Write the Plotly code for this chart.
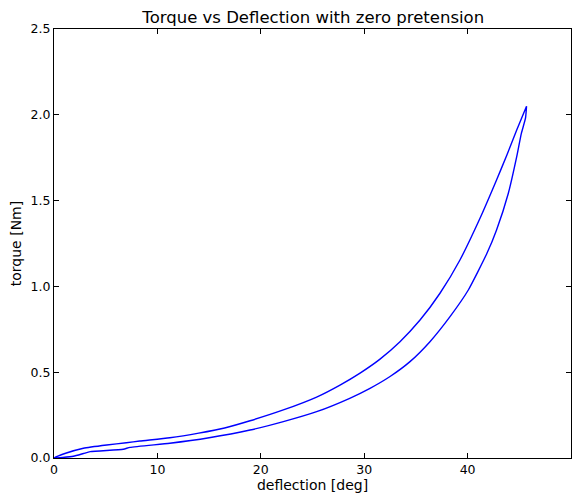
import plotly.graph_objects as go

# Loading branch (upper curve), deflection [deg] and torque [Nm]
defl_up = [0.0, 1.2, 2.84, 5.1, 7.0, 8.3, 11.2, 14.0, 16.5, 18.96, 22.18, 25.4, 27.66,
           29.6, 31.5, 33.46, 35.4, 37.33, 39.26, 41.2, 42.8, 43.8, 44.75, 45.7]
torque_up = [0.0, 0.029, 0.057, 0.076, 0.089, 0.099, 0.118, 0.145, 0.175, 0.217, 0.28, 0.355, 0.425,
             0.495, 0.575, 0.678, 0.804, 0.96, 1.154, 1.397, 1.62, 1.766, 1.911, 2.05]

# Unloading branch (lower curve)
defl_down = [45.7, 45.6, 45.2, 44.75, 43.94, 42.8, 41.85, 40.07, 38.3, 36.36, 34.4,
             32.5, 30.56, 28.6, 25.4, 22.18, 18.96, 15.0, 11.2, 7.35, 6.7, 3.5, 2.84, 1.87, 0.0]
torque_down = [2.05, 1.98, 1.892, 1.756, 1.543, 1.329, 1.19, 0.979, 0.824, 0.678, 0.56,
               0.475, 0.406, 0.348, 0.27, 0.212, 0.163, 0.118, 0.086, 0.062, 0.051, 0.037, 0.026, 0.01, 0.0]

x_ticks = [0, 10, 20, 30, 40, 50]
y_ticks = [0.0, 0.5, 1.0, 1.5, 2.0, 2.5]

fig = go.Figure()
fig.add_trace(go.Scatter(
    x=defl_up + defl_down,
    y=torque_up + torque_down,
    mode="lines",
    line=dict(color="#0000ff", width=1.4, shape="spline", smoothing=0.5),
    showlegend=False,
))

axis_common = dict(
    showline=True, linecolor="black", linewidth=1, mirror="ticks",
    ticks="inside", ticklen=5, tickcolor="black", tickwidth=1,
    showgrid=False, zeroline=False,
    tickfont=dict(family="DejaVu Sans", size=12.5, color="black"),
)

fig.update_layout(
    width=578, height=498,
    margin=dict(l=54, r=7, t=29, b=40),
    paper_bgcolor="white", plot_bgcolor="white",
    title=dict(text="Torque vs Deflection with zero pretension",
               x=0.542, xanchor="center", y=0.966, yanchor="middle",
               font=dict(family="DejaVu Sans", size=16.5, color="black")),
    xaxis=dict(range=[0, 50], tickvals=x_ticks, ticktext=[str(v) for v in x_ticks],
               title=dict(text="deflection [deg]", standoff=3,
                          font=dict(family="DejaVu Sans", size=14, color="black")),
               **axis_common),
    yaxis=dict(range=[0, 2.5], tickvals=y_ticks, ticktext=[f"{v:.1f}" for v in y_ticks],
               title=dict(text="torque [Nm]", standoff=5,
                          font=dict(family="DejaVu Sans", size=14, color="black")),
               **axis_common),
)

fig.write_html("out.html")
